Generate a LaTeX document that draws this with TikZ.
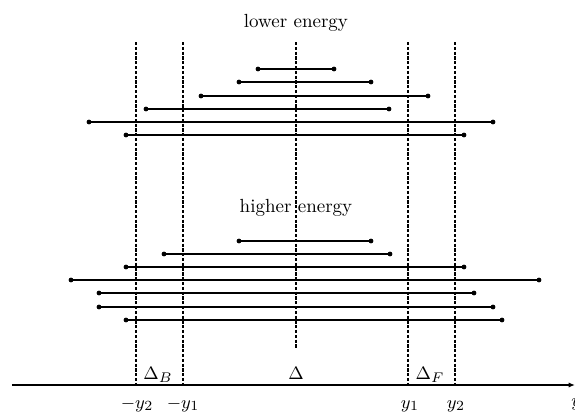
\documentclass[tikz,border=0pt]{standalone}
\usetikzlibrary{arrows.meta}
\begin{document}
\begin{tikzpicture}[x=0.5pt,y=-0.5pt,
  txt/.style={font=\fontsize{9.5}{11}\selectfont, inner sep=0pt},
  ep/.style={circle, fill=black, inner sep=0pt, minimum size=2.4pt},
  seg/.style={line width=1.05pt},
  dthin/.style={line width=0.6pt, dash pattern=on 1.6pt off 0.8pt},
  dthick/.style={line width=1pt, dash pattern=on 1.6pt off 0.8pt},
  axisline/.style={line width=0.9pt, -{Latex[length=3.2pt,width=2.6pt]}}]
\useasboundingbox (0,0) rectangle (575,413);

% titles
\node[txt] (tlow) at (296,23) {lower energy};
\node[txt] (thigh) at (296,208) {higher energy};

% vertical dashed lines
\coordinate (vA1) at (136,42);  \coordinate (vA2) at (136,385);
\coordinate (vB1) at (183,42);  \coordinate (vB2) at (183,385);
\coordinate (vC1) at (296,42);  \coordinate (vC2) at (296,348);
\coordinate (vD1) at (408,42);  \coordinate (vD2) at (408,385);
\coordinate (vE1) at (455,42);  \coordinate (vE2) at (455,385);
\draw[dthin] (vA1) -- (vA2);
\draw[dthick] (vB1) -- (vB2);
\draw[dthick] (vC1) -- (vC2);
\draw[dthin] (vD1) -- (vD2);
\draw[dthick] (vE1) -- (vE2);

% horizontal segments
\foreach \i/\y/\a/\b in {1/69/258/334, 2/82/239/371, 3/96/201/428,
    4/109/146/389, 5/122/89/493, 6/135/126/464,
    7/241/239/371, 8/254/164/390, 9/267/126/464, 10/280/71/539,
    11/293/99/474, 12/307/99/493, 13/320/126/502}{
  \node[ep] (La\i) at (\a,\y) {};
  \node[ep] (Lb\i) at (\b,\y) {};
  \draw[seg] (La\i.center) -- (Lb\i.center);
}

% axis
\coordinate (ax0) at (12,385);
\coordinate (ax1) at (575,385);
\draw[axisline] (ax0) -- (ax1);
\node[txt, anchor=base west] (ylab) at (571,406) {$y$};

% region labels
\node[txt, anchor=base] (dB) at (158,379) {$\Delta_B$};
\node[txt, anchor=base] (dC) at (296,379) {$\Delta$};
\node[txt, anchor=base] (dF) at (430,379) {$\Delta_F$};

% tick labels
\node[txt, anchor=base] (m2) at (137,408) {$-y_2$};
\node[txt, anchor=base] (m1) at (183,408) {$-y_1$};
\node[txt, anchor=base] (p1) at (410,408) {$y_1$};
\node[txt, anchor=base] (p2) at (456,408) {$y_2$};
\end{tikzpicture}
\end{document}
